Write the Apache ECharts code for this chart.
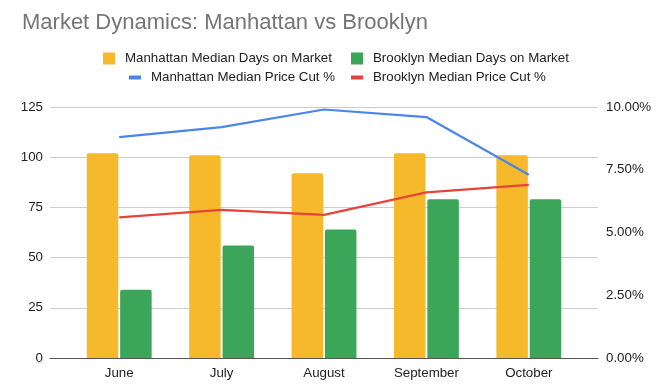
<!DOCTYPE html>
<html><head><meta charset="utf-8">
<script src="https://cdn.jsdelivr.net/npm/echarts@6/dist/echarts.min.js"></script>
<style>html,body{margin:0;padding:0;background:#fff}#c{width:666px;height:388px}</style>
</head><body><div id="c"></div>
<script>
const titleText = 'Market Dynamics: Manhattan vs Brooklyn';
const months = ['June', 'July', 'August', 'September', 'October'];
const seriesNames = ['Manhattan Median Days on Market', 'Brooklyn Median Days on Market',
                     'Manhattan Median Price Cut %', 'Brooklyn Median Price Cut %'];
const manhattanDays = [102, 101, 92, 102, 101];
const brooklynDays = [34, 56, 64, 79, 79];
const manhattanCut = [8.8, 9.2, 9.9, 9.6, 7.3];
const brooklynCut = [5.6, 5.9, 5.7, 6.6, 6.9];
const leftTicks = [0, 25, 50, 75, 100, 125];
const rightTicks = [0, 2.5, 5, 7.5, 10];

const FONT = "'Liberation Sans', Arial, sans-serif";
const colors = ['#F6B92B', '#3BA55A', '#4A86E8', '#E6443A'];
const lMin = leftTicks[0], lMax = leftTicks[leftTicks.length - 1], lInt = leftTicks[1] - leftTicks[0];
const rMin = rightTicks[0], rMax = rightTicks[rightTicks.length - 1], rInt = rightTicks[1] - rightTicks[0];

const chart = echarts.init(document.getElementById('c'), null, {renderer: 'canvas'});

function legend(name, left, top, w, h) {
  return {
    data: [{name: name, icon: 'rect'}], left: left, top: top, padding: 0,
    itemWidth: w, itemHeight: h, selectedMode: false,
    textStyle: {fontFamily: FONT, fontSize: 13.3, color: '#222', padding: [0, 0, 0, 5]}
  };
}

chart.setOption({
  animation: false,
  title: {text: titleText, left: 22, top: 12, padding: 0,
    textStyle: {fontFamily: FONT, fontSize: 22, fontWeight: 'normal', color: '#757575'}},
  legend: [
    legend(seriesNames[0], 103, 52, 12, 12),
    legend(seriesNames[1], 351, 52, 12, 12),
    legend(seriesNames[2], 129, 71, 12, 4),
    legend(seriesNames[3], 351, 71, 12, 4)
  ],
  grid: [
    {left: 50, right: 68, top: 107, bottom: 30},
    {left: 68, right: 86, top: 107, bottom: 30}
  ],
  xAxis: [
    {type: 'category', gridIndex: 0, data: months, axisTick: {show: false}, axisLabel: {show: false},
     axisLine: {show: true, lineStyle: {color: '#555', width: 1}}, z: 5},
    {type: 'category', gridIndex: 1, data: months, axisTick: {show: false},
     axisLine: {show: false},
     axisLabel: {fontFamily: FONT, fontSize: 13.3, color: '#222', margin: 9}}
  ],
  yAxis: [
    {type: 'value', gridIndex: 0, min: lMin, max: lMax, interval: lInt, position: 'left',
     axisLine: {show: false}, axisTick: {show: false},
     splitLine: {lineStyle: {color: '#cccccc', width: 1}},
     axisLabel: {fontFamily: FONT, fontSize: 13.3, color: '#222', margin: 7}},
    {type: 'value', gridIndex: 0, min: rMin, max: rMax, interval: rInt, position: 'right',
     axisLine: {show: false}, axisTick: {show: false}, splitLine: {show: false},
     axisLabel: {fontFamily: FONT, fontSize: 13.3, color: '#222', margin: 8,
       formatter: v => v.toFixed(2) + '%'}},
    {type: 'value', gridIndex: 1, min: lMin, max: lMax, interval: lInt, show: false},
    {type: 'value', gridIndex: 1, min: rMin, max: rMax, interval: rInt, show: false}
  ],
  series: [
    {name: seriesNames[0], type: 'bar', xAxisIndex: 1, yAxisIndex: 2, data: manhattanDays,
     barWidth: 31.5, barGap: '6%', itemStyle: {color: colors[0], borderRadius: [2, 2, 0, 0]}},
    {name: seriesNames[1], type: 'bar', xAxisIndex: 1, yAxisIndex: 2, data: brooklynDays,
     barWidth: 31.5, barGap: '6%', itemStyle: {color: colors[1], borderRadius: [2, 2, 0, 0]}},
    {name: seriesNames[2], type: 'line', xAxisIndex: 1, yAxisIndex: 3, data: manhattanCut,
     showSymbol: false, symbol: 'none', lineStyle: {color: colors[2], width: 2.2}, itemStyle: {color: colors[2]}, z: 10},
    {name: seriesNames[3], type: 'line', xAxisIndex: 1, yAxisIndex: 3, data: brooklynCut,
     showSymbol: false, symbol: 'none', lineStyle: {color: colors[3], width: 2.2}, itemStyle: {color: colors[3]}, z: 10}
  ]
});
</script></body></html>
